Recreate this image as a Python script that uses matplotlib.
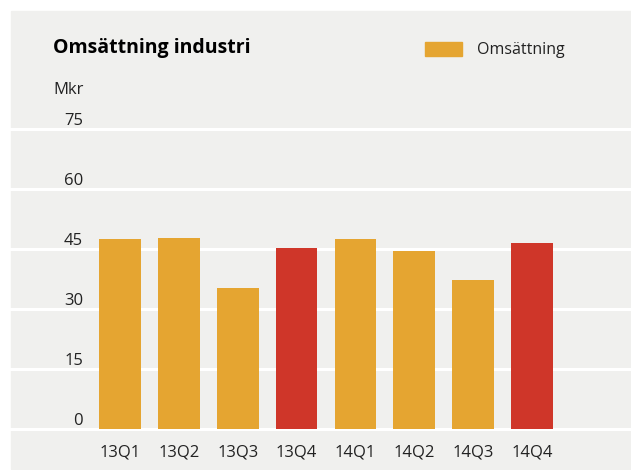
import numpy as np
import matplotlib.pyplot as plt
from matplotlib.patches import Rectangle

kvartal = ['13Q1', '13Q2', '13Q3', '13Q4', '14Q1', '14Q2', '14Q3', '14Q4']
omsattning = [47.5, 47.75, 35.25, 45.25, 47.5, 44.5, 37.25, 46.5]
yticks = [0, 15, 30, 45, 60, 75]

orange = '#e5a531'
red = '#cf3629'
bg = '#f0f0ee'
colors = [red if k.endswith('Q4') else orange for k in kvartal]

plt.rcParams['font.family'] = ['Open Sans', 'DejaVu Sans']

W, H = 631, 470
fig = plt.figure(figsize=(W / 100, H / 100), dpi=100)
fig.patch.set_facecolor('white')
fig.patches.append(Rectangle((11 / W, 1 - 469 / H), 620 / W, 458 / H,
                             transform=fig.transFigure, color=bg, zorder=-5))

# axes: y=0 at px 429, y=75 at px 129
ax = fig.add_axes([11 / W, 1 - 429 / H, 620 / W, 300 / H])
ax.set_zorder(2)
ax.patch.set_alpha(0)
x = np.arange(len(kvartal))
step = 58.86
ax.set_xlim((11 - 120) / step, (631 - 120) / step)
ax.set_ylim(0, 75)

for t in yticks:
    ax.axhline(t, color='white', lw=2.2, zorder=1, clip_on=False)
    ax.text((83 - 120) / step, t + 0.9, str(t), ha='right', va='baseline',
            fontsize=12, color='#222222')

ax.bar(x, omsattning, width=0.71, color=colors, zorder=2)

for xi, k in zip(x, kvartal):
    ax.text(xi, -5.8, k, ha='center', va='center', fontsize=12, color='#222222')

ax.axis('off')

fig.text(53 / W, 1 - 48 / H, 'Omsättning industri', fontsize=14,
         fontweight='bold', va='center', ha='left', color='black')
fig.text(53 / W, 1 - 90 / H, 'Mkr', fontsize=12, va='center', ha='left',
         color='#222222')

fig.patches.append(Rectangle((425 / W, 1 - 56 / H), 37 / W, 14 / H,
                             transform=fig.transFigure, color=orange, zorder=2))
fig.text(477 / W, 1 - 50 / H, 'Omsättning', fontsize=11.5, va='center',
         ha='left', color='#222222')

fig.savefig('out.png', dpi=100)
